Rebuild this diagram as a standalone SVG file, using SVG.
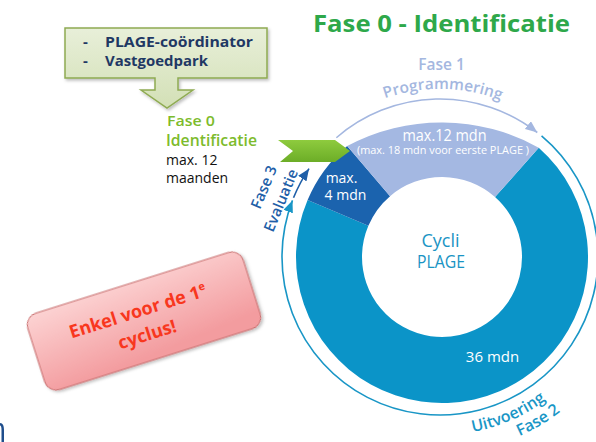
<svg xmlns="http://www.w3.org/2000/svg" width="596" height="442" viewBox="0 0 596 442">
<style>
text{font-family:"Open Sans","Noto Sans","DejaVu Sans",sans-serif}
.seg{fill:#ffffff}
.navy{fill:#1f3864;font-weight:700;font-size:15px}
.lav{fill:#a4b7e0;font-weight:600;font-size:15.5px}
.teal{fill:#1996c6;font-weight:600;font-size:16px}
.dblue{fill:#1f5fa8;font-weight:600;font-size:15px}
.ring{fill:none;stroke-width:1.6}
</style>
<defs>
<linearGradient id="gCallout" x1="0" y1="0" x2="0" y2="1"><stop offset="0" stop-color="#e8efd9"/><stop offset="1" stop-color="#d3e0b6"/></linearGradient>
<linearGradient id="gNote" x1="0" y1="0" x2="0.25" y2="1"><stop offset="0" stop-color="#fcd3d3"/><stop offset="1" stop-color="#f39c9f"/></linearGradient>
<linearGradient id="gFlag" x1="0" y1="0" x2="0" y2="1"><stop offset="0" stop-color="#8ecb3e"/><stop offset="1" stop-color="#6cad27"/></linearGradient>
<filter id="shadow" x="-10%" y="-10%" width="130%" height="140%"><feDropShadow dx="1.5" dy="2" stdDeviation="1.5" flood-color="#000" flood-opacity="0.25"/></filter>
<marker id="arrLav" markerUnits="userSpaceOnUse" markerWidth="13" markerHeight="10" refX="12" refY="5" orient="auto"><path d="M0,0 L12,5 L0,10 Z" fill="#a4b7e0"/></marker>
<marker id="arrTeal" markerUnits="userSpaceOnUse" markerWidth="13" markerHeight="10" refX="12" refY="5" orient="auto"><path d="M0,0 L12,5 L0,10 Z" fill="#1996c6"/></marker>
<marker id="arrDark" markerUnits="userSpaceOnUse" markerWidth="13" markerHeight="10" refX="12" refY="5" orient="auto"><path d="M0,0 L12,5 L0,10 Z" fill="#1f5fa8"/></marker>
<path id="pProg" d="M295.99,170.47 A168 168 0 0 1 586.93,175.55"/>
<path id="pUit" d="M409.09,432.30 A178 178 0 0 0 607.27,317.88"/>
<path id="pFase2" d="M405.96,450.02 A196 196 0 0 0 624.18,324.04"/>
</defs>

<rect width="596" height="442" fill="#ffffff"/>

<text x="313" y="32" font-size="24" font-weight="700" fill="#2ea84a" textLength="257" lengthAdjust="spacingAndGlyphs">Fase 0 - Identificatie</text>

<g id="callout">
<path d="M65,28 H267 V78 H178 V90 H193 L167,108 L141,90 H155 V78 H65 Z" fill="url(#gCallout)" stroke="#8fab52" stroke-width="1.5" filter="url(#shadow)"/>
<text class="navy" x="83" y="47">-</text>
<text class="navy" x="105" y="47" textLength="148" lengthAdjust="spacingAndGlyphs">PLAGE-coördinator</text>
<text class="navy" x="83" y="66">-</text>
<text class="navy" x="105" y="66" textLength="103" lengthAdjust="spacingAndGlyphs">Vastgoedpark</text>
</g>

<g id="fase0">
<text x="167" y="126" font-size="14.5" font-weight="600" fill="#7dbb2c" textLength="48" lengthAdjust="spacingAndGlyphs">Fase 0</text>
<text x="166" y="146" font-size="17" font-weight="600" fill="#7dbb2c" textLength="91" lengthAdjust="spacingAndGlyphs">Identificatie</text>
<text x="166" y="165" font-size="14" fill="#111111">max. 12</text>
<text x="166" y="183" font-size="14" fill="#111111">maanden</text>
</g>

<g id="donut">
<path id="seg-uitvoering" d="M538.74,147.65 A146 146 0 1 1 307.61,199.95 L368.36,225.74 A80 80 0 1 0 495.01,197.08 Z" fill="#0b94c8"/>
<path id="seg-evaluatie" d="M307.61,199.95 A146 146 0 0 1 347.19,145.98 L390.05,196.17 A80 80 0 0 0 368.36,225.74 Z" fill="#1b63ae"/>
<path id="seg-programmering" d="M347.19,145.98 A200 200 0 0 1 538.74,147.65 L495.01,197.08 A80 80 0 0 0 390.05,196.17 Z" fill="#a4b8e2"/>
<text class="seg" x="444.5" y="141" font-size="16" text-anchor="middle" textLength="84" lengthAdjust="spacingAndGlyphs">max.12 mdn</text>
<text class="seg" x="443" y="154" font-size="10.5" text-anchor="middle" textLength="172" lengthAdjust="spacingAndGlyphs">(max. 18 mdn voor eerste PLAGE )</text>
<text class="seg" x="341.5" y="183" font-size="14" text-anchor="middle">max.</text>
<text class="seg" x="345.5" y="200" font-size="14" text-anchor="middle">4 mdn</text>
<text class="seg" x="492.5" y="362" font-size="15" text-anchor="middle">36 mdn</text>
<text x="440.5" y="247" font-size="18" fill="#1a94c4" text-anchor="middle">Cycli</text>
<text x="441" y="268" font-size="18" fill="#1a94c4" text-anchor="middle" textLength="48" lengthAdjust="spacingAndGlyphs">PLAGE</text>
</g>

<g id="flag">
<polygon points="278,140 335,140 350,151 335,162 280,162 293,151" fill="url(#gFlag)"/>
</g>

<g id="connectors">
<path class="ring" d="M336.34,137.76 A158 158 0 0 1 537.28,132.50" stroke="#a4b7e0" marker-end="url(#arrLav)"/>
<path class="ring" d="M541.56,135.97 A158 158 0 1 1 292.49,200.38" stroke="#1996c6" marker-end="url(#arrTeal)"/>
<path class="ring" d="M293.51,197.81 A158 158 0 0 1 309.02,168.65" stroke="#1f5fa8" marker-end="url(#arrDark)"/>
</g>

<g id="label-fase1">
<text class="lav" x="441.5" y="70" text-anchor="middle">Fase 1</text>
<text class="lav"><textPath href="#pProg" startOffset="50%" text-anchor="middle">Programmering</textPath></text>
</g>

<g id="label-fase2">
<text class="teal"><textPath href="#pUit" startOffset="64">Uitvoering</textPath></text>
<text class="teal"><textPath href="#pFase2" startOffset="116">Fase 2</textPath></text>
</g>

<g id="label-fase3">
<text class="dblue" transform="translate(260,210) rotate(-67.5)">Fase 3</text>
<text class="dblue" transform="translate(273,233) rotate(-67.5)">Evaluatie</text>
</g>

<g id="note" transform="translate(144,321) rotate(-17.5)">
<rect x="-113" y="-40" width="226" height="80" rx="12" fill="url(#gNote)" stroke="#c66a6a" stroke-width="1" filter="url(#shadow)"/>
<text x="-3" y="-5" font-size="18" font-weight="700" fill="#f8371e" text-anchor="middle">Enkel voor de 1<tspan dy="-7" font-size="11">e</tspan></text>
<text x="-1" y="20" font-size="18" font-weight="700" fill="#f8371e" text-anchor="middle">cyclus!</text>
</g>

<path d="M0,423 C3,423 4,426 4,430 L4,442 L1.5,442 L1.5,430 C1.5,427 1,425.5 0,425.5 Z" fill="#1f4e8c"/>
</svg>
